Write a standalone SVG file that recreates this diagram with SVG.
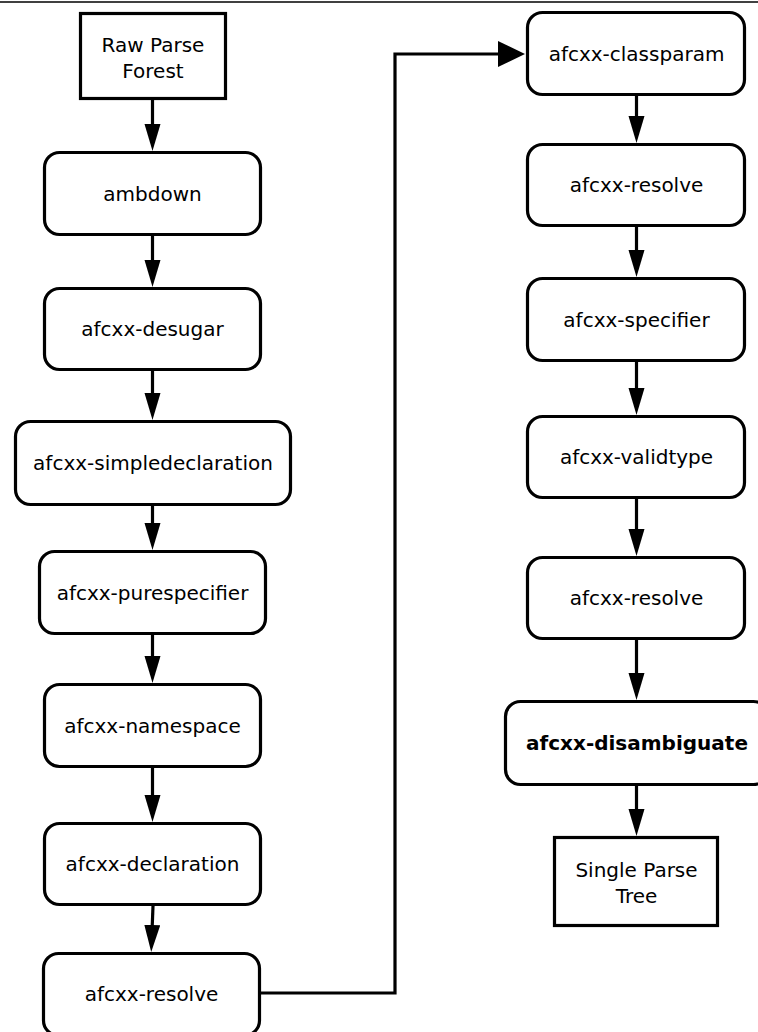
<svg xmlns="http://www.w3.org/2000/svg" width="758" height="1032" viewBox="0 0 758 1032">
<style>
.box{fill:#fff;stroke:#000;stroke-width:3.2}
.t{font-family:"DejaVu Sans","Liberation Sans",sans-serif;font-size:20px;text-anchor:middle;fill:#000}
.b{font-weight:bold}
.c{fill:none;stroke:#000;stroke-width:3.2;marker-end:url(#ah)}
.cl{fill:none;stroke:#000;stroke-width:3.2;marker-end:url(#ahl)}
</style>
<defs>
<marker id="ah" markerUnits="userSpaceOnUse" markerWidth="28" markerHeight="17" refX="7" refY="8" orient="auto">
<path d="M0,0 L27,8 L0,16 z" fill="#000"/>
</marker>
<marker id="ahl" markerUnits="userSpaceOnUse" markerWidth="28" markerHeight="27" refX="7" refY="13" orient="auto">
<path d="M0,0 L27,13 L0,26 z" fill="#000"/>
</marker>
</defs>
<rect width="758" height="1032" fill="#fff"/>
<line x1="0" y1="2" x2="758" y2="2" stroke="#000" stroke-width="1.5"/>
<g id="connectors">
<path class="c" d="M152.5,100 L152.5,131"/>
<path class="c" d="M152.5,236 L152.5,267"/>
<path class="c" d="M152.5,371 L152.5,400"/>
<path class="c" d="M152.5,506 L152.5,530"/>
<path class="c" d="M152.5,635 L152.5,663"/>
<path class="c" d="M152.5,768 L152.5,802"/>
<path class="c" d="M153,906 L152,932"/>
<path class="cl" d="M260,993 L395,993 L395,54 L505,54"/>
<path class="c" d="M636.5,96 L636.5,123"/>
<path class="c" d="M636.5,227 L636.5,257"/>
<path class="c" d="M636.5,362 L636.5,395"/>
<path class="c" d="M636.5,499 L636.5,536"/>
<path class="c" d="M636.5,640 L636.5,680"/>
<path class="c" d="M636.5,786 L636.5,816"/>
</g>
<g id="raw-parse-forest">
<rect class="box" x="80.5" y="13.5" width="145" height="85"/>
<text class="t" x="153" y="52">Raw Parse</text>
<text class="t" x="153" y="78">Forest</text>
</g>
<g id="ambdown">
<rect class="box" x="44.5" y="152.5" width="216" height="82" rx="15"/>
<text class="t" x="152.5" y="201">ambdown</text>
</g>
<g id="afcxx-desugar">
<rect class="box" x="44.5" y="288.5" width="216" height="81" rx="15"/>
<text class="t" x="152.5" y="336">afcxx-desugar</text>
</g>
<g id="afcxx-simpledeclaration">
<rect class="box" x="15.5" y="421.5" width="275" height="83" rx="15"/>
<text class="t" x="153" y="470">afcxx-simpledeclaration</text>
</g>
<g id="afcxx-purespecifier">
<rect class="box" x="39.5" y="551.5" width="226" height="82" rx="15"/>
<text class="t" x="152.5" y="600">afcxx-purespecifier</text>
</g>
<g id="afcxx-namespace">
<rect class="box" x="44.5" y="684.5" width="216" height="82" rx="15"/>
<text class="t" x="152.5" y="733">afcxx-namespace</text>
</g>
<g id="afcxx-declaration">
<rect class="box" x="44.5" y="823.5" width="216" height="81" rx="15"/>
<text class="t" x="152.5" y="871">afcxx-declaration</text>
</g>
<g id="afcxx-resolve-1">
<rect class="box" x="43.5" y="953.5" width="216" height="82" rx="15"/>
<text class="t" x="151.5" y="1001">afcxx-resolve</text>
</g>
<g id="afcxx-classparam">
<rect class="box" x="527.5" y="12.5" width="217" height="82" rx="15"/>
<text class="t" x="636.5" y="61">afcxx-classparam</text>
</g>
<g id="afcxx-resolve-2">
<rect class="box" x="527.5" y="144.5" width="217" height="81" rx="15"/>
<text class="t" x="636.5" y="192">afcxx-resolve</text>
</g>
<g id="afcxx-specifier">
<rect class="box" x="527.5" y="278.5" width="217" height="82" rx="15"/>
<text class="t" x="636.5" y="327">afcxx-specifier</text>
</g>
<g id="afcxx-validtype">
<rect class="box" x="527.5" y="416.5" width="217" height="81" rx="15"/>
<text class="t" x="636.5" y="464">afcxx-validtype</text>
</g>
<g id="afcxx-resolve-3">
<rect class="box" x="527.5" y="557.5" width="217" height="81" rx="15"/>
<text class="t" x="636.5" y="605">afcxx-resolve</text>
</g>
<g id="afcxx-disambiguate">
<rect class="box" x="505.5" y="701.5" width="263" height="83" rx="15"/>
<text class="t b" x="637" y="750">afcxx-disambiguate</text>
</g>
<g id="single-parse-tree">
<rect class="box" x="554.5" y="837.5" width="163" height="88"/>
<text class="t" x="636.5" y="877">Single Parse</text>
<text class="t" x="636.5" y="903">Tree</text>
</g>
</svg>
